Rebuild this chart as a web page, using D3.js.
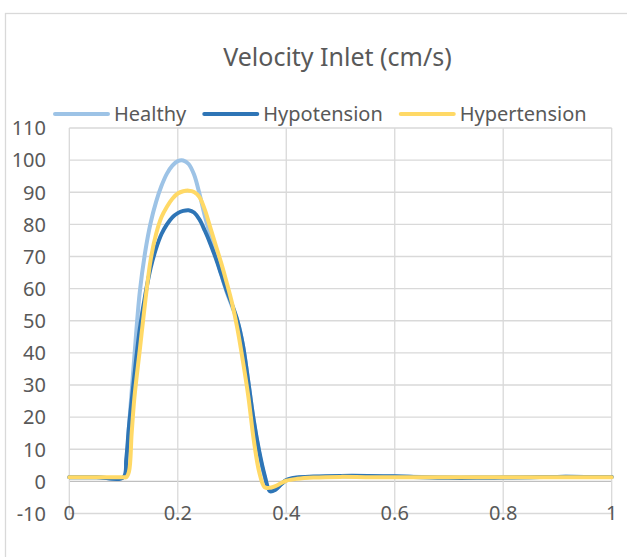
<!DOCTYPE html>
<html>
<head>
<meta charset="utf-8">
<script src="https://cdn.jsdelivr.net/npm/d3@7"></script>
<style>
    body { margin: 0; background: #fff; }
    text { font-family: "Noto Sans", "Open Sans", sans-serif; fill: #595959; }
</style>
</head>
<body>
<svg id="chart"></svg>
<script>
const times = [0, 0.05, 0.1, 0.105, 0.11, 0.115, 0.12, 0.13, 0.14, 0.15, 0.16, 0.17, 0.18, 0.19,
    0.2, 0.21, 0.22, 0.23, 0.24, 0.25, 0.26, 0.27, 0.28, 0.29, 0.3, 0.31, 0.32, 0.33, 0.34,
    0.35, 0.36, 0.37, 0.38, 0.39, 0.4, 0.42, 0.45, 0.5, 0.55, 0.6, 0.65, 0.7, 0.75, 0.8,
    0.85, 0.9, 0.95, 1];

const healthy = [1.3, 1.3, 1.3, 5, 17, 28, 39, 59, 71.5, 80.5, 87, 92, 95.8, 98.3,
    99.7, 99.9, 98.8, 95.5, 89.5, 82.5, 76.5, 70.5, 64.5, 59, 54.5, 50, 42.5, 31, 19,
    9, 1.5, -2.8, -2.5, -1, 0.3, 1.1, 1.4, 1.5, 1.5, 1.5, 1.4, 1.3, 1.3, 1.3,
    1.3, 1.4, 1.4, 1.4];

const hypotension = [1.3, 1.3, 1.3, 7, 17, 25, 33, 47.5, 58, 66.5, 72.5, 77, 80, 82.2,
    83.5, 84.2, 84.4, 83.7, 81.5, 78, 74, 69.5, 64.5, 59.5, 55, 50, 42.5, 31, 19,
    9.5, 2, -3.1, -2.6, -1, 0.4, 1.2, 1.5, 1.7, 1.7, 1.6, 1.3, 1.1, 1.1, 1.2,
    1.3, 1.4, 1.4, 1.4];

const hypertension = [1.3, 1.3, 1.3, 1.3, 3, 15, 26, 41, 56, 69, 77, 82.3, 85.5, 88,
    89.6, 90.3, 90.5, 90.1, 88.5, 84.5, 79, 73.5, 68, 62, 55.5, 47.5, 37.5, 26.5, 13,
    3, -1.8, -2, -1.5, -0.6, 0.2, 0.8, 1.2, 1.4, 1.3, 1.3, 1.3, 1.3, 1.3, 1.3,
    1.3, 1.3, 1.3, 1.3];

const seriesNames = ['Healthy', 'Hypotension', 'Hypertension'];
const seriesColors = ['#9dc3e6', '#2e75b6', '#ffd966'];
const xTicks = [0, 0.2, 0.4, 0.6, 0.8, 1];
const yTicks = [-10, 0, 10, 20, 30, 40, 50, 60, 70, 80, 90, 100, 110];
const title = 'Velocity Inlet (cm/s)';

class LineChart {

    constructor(config) {
        this.config = {
            parent: config.parent,
            width: config.width || 627,
            height: config.height || 557,
            margin: config.margin || { top: 128, right: 15, bottom: 43.5, left: 69.3 }
        };
        this.init();
    }

    init() {
        let self = this;
        let margin = self.config.margin;

        self.svg = d3.select(self.config.parent)
            .attr('width', self.config.width)
            .attr('height', self.config.height);

        // chart area border (runs off the right and bottom edge)
        self.svg.append('rect')
            .attr('x', 5.5).attr('y', 13.5)
            .attr('width', 700).attr('height', 600)
            .attr('fill', 'none')
            .attr('stroke', '#d9d9d9')
            .attr('stroke-width', 1.3);

        self.inner_width = 611.7 - margin.left;
        self.inner_height = self.config.height - margin.top - margin.bottom;

        self.xscale = d3.scaleLinear()
            .domain([0, 1])
            .range([margin.left, margin.left + self.inner_width]);

        self.yscale = d3.scaleLinear()
            .domain([-10, 110])
            .range([margin.top + self.inner_height, margin.top]);

        self.svg.append('text')
            .attr('x', 337.5)
            .attr('y', 66)
            .attr('text-anchor', 'middle')
            .style('font-size', '25px')
            .text(title);
    }

    render() {
        let self = this;
        const x = self.xscale, y = self.yscale;

        // grid
        self.svg.append('g')
            .selectAll('line')
            .data(yTicks)
            .join('line')
            .attr('x1', x(0)).attr('x2', x(1))
            .attr('y1', d => y(d)).attr('y2', d => y(d))
            .attr('stroke', d => d === 0 ? '#bfbfbf' : '#d9d9d9')
            .attr('stroke-width', 1.3);

        self.svg.append('g')
            .selectAll('line')
            .data(xTicks)
            .join('line')
            .attr('x1', d => x(d)).attr('x2', d => x(d))
            .attr('y1', y(110)).attr('y2', y(-10))
            .attr('stroke', '#d9d9d9')
            .attr('stroke-width', 1.3);

        // tick labels
        self.svg.append('g')
            .selectAll('text')
            .data(yTicks)
            .join('text')
            .attr('x', 46)
            .attr('y', d => y(d) + 7.3)
            .attr('text-anchor', 'end')
            .style('font-size', '20px')
            .text(d => d);

        self.svg.append('g')
            .selectAll('text')
            .data(xTicks)
            .join('text')
            .attr('x', d => x(d))
            .attr('y', 520)
            .attr('text-anchor', 'middle')
            .style('font-size', '20px')
            .text(d => d);

        // lines
        const values = [healthy, hypotension, hypertension];
        const line = d3.line()
            .x(d => x(d[0]))
            .y(d => y(d[1]))
            .curve(d3.curveCatmullRom.alpha(0.5));

        self.svg.append('g')
            .selectAll('path')
            .data(values)
            .join('path')
            .attr('d', v => line(times.map((t, i) => [t, v[i]])))
            .attr('fill', 'none')
            .attr('stroke', (v, i) => seriesColors[i])
            .attr('stroke-width', 4)
            .attr('stroke-linejoin', 'round')
            .attr('stroke-linecap', 'round');

        // legend
        let lx = 55;
        const legend = self.svg.append('g');
        seriesNames.forEach((name, i) => {
            legend.append('line')
                .attr('x1', lx).attr('x2', lx + 53)
                .attr('y1', 114).attr('y2', 114)
                .attr('stroke', seriesColors[i])
                .attr('stroke-width', 4)
                .attr('stroke-linecap', 'round');
            const t = legend.append('text')
                .attr('x', lx + 59)
                .attr('y', 121)
                .style('font-size', '20px')
                .text(name);
            lx = lx + 59 + t.node().getComputedTextLength() + 18;
        });
    }
}

let chart = new LineChart({ parent: '#chart' });
chart.render();
</script>
</body>
</html>
